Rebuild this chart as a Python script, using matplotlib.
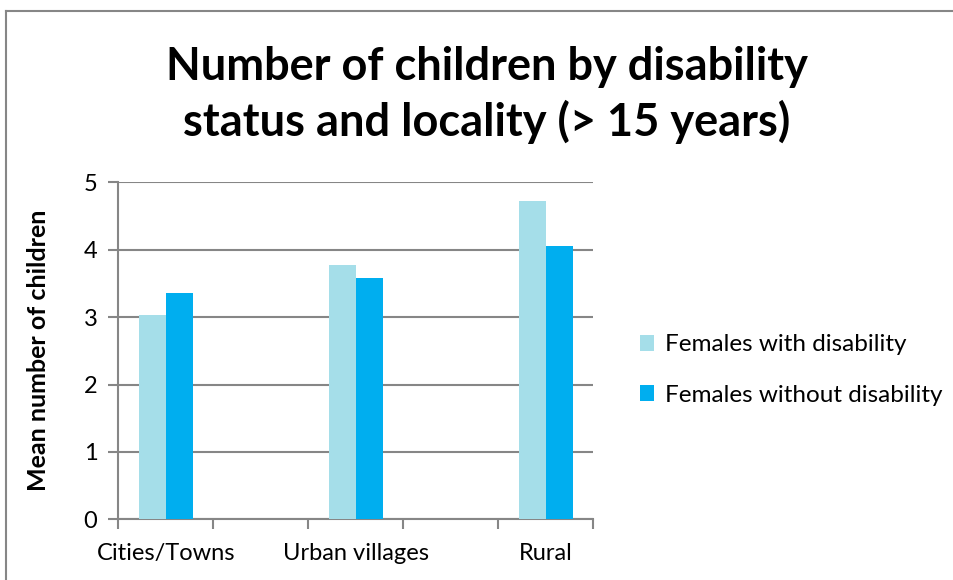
import matplotlib
matplotlib.use("Agg")
import matplotlib.pyplot as plt
import numpy as np
from matplotlib.lines import Line2D

categories = ["Cities/Towns", "", "Urban villages", "", "Rural"]
with_disability = [3.03, np.nan, 3.78, np.nan, 4.72]
without_disability = [3.36, np.nan, 3.58, np.nan, 4.05]
series_names = ["Females with disability", "Females without disability"]
yticks = [0, 1, 2, 3, 4, 5]
title = "Number of children by disability\nstatus and locality (> 15 years)"
ylabel = "Mean number of children"

LIGHT = "#A5DEE9"
DARK = "#00AEEF"
GRID = "#868686"
FONT = ["Lato", "DejaVu Sans"]
plt.rcParams["font.family"] = FONT

W, H = 954, 580
fig = plt.figure(figsize=(W / 100, H / 100), dpi=100)
fig.patch.set_facecolor("white")

left, right, top, bottom = 118.3, 593.3, 182.3, 519.3
ax = fig.add_axes([left / W, 1 - bottom / H, (right - left) / W, (bottom - top) / H])

x = np.arange(len(categories))
bw = 27 / 95
ax.bar(x - bw / 2, with_disability, bw, color=LIGHT, label=series_names[0], zorder=3)
ax.bar(x + bw / 2, without_disability, bw, color=DARK, label=series_names[1], zorder=3)

ax.set_xlim(-0.5, len(categories) - 0.5)
ax.set_ylim(0, 5)
ax.set_yticks(yticks)
ax.set_yticklabels([str(v) for v in yticks], fontsize=17)
ax.yaxis.grid(True, color=GRID, linewidth=1.5, zorder=0)
ax.set_axisbelow(True)

ax.set_xticks(x)
ax.set_xticklabels(categories, fontsize=17)
ax.set_xticks(np.arange(-0.5, len(categories)), minor=True)
ax.tick_params(axis="x", which="major", length=0, pad=17)
ax.tick_params(axis="x", which="minor", length=7, width=1.5, color=GRID, direction="out")
ax.tick_params(axis="y", length=7, width=1.5, color=GRID, direction="out", pad=8)

for s in ["top", "right"]:
    ax.spines[s].set_visible(False)
for s in ["left", "bottom"]:
    ax.spines[s].set_color(GRID)
    ax.spines[s].set_linewidth(1.5)

ax.set_ylabel(ylabel, fontsize=18, fontweight="bold", labelpad=24)

fig.text(487 / W, 1 - 95 / H, title, ha="center", va="center", fontsize=32.5,
         fontweight="bold", linespacing=1.3)

fig.legend(loc="center left", bbox_to_anchor=(618 / W, 1 - 370 / H), frameon=False,
           fontsize=17.5, handlelength=0.6, handleheight=0.6, handletextpad=0.45,
           labelspacing=1.2)

# chart border (top and left visible)
fig.add_artist(Line2D([6.5 / W, 1.0], [1 - 11 / H, 1 - 11 / H], color=GRID, linewidth=1.5))
fig.add_artist(Line2D([6.5 / W, 6.5 / W], [0, 1 - 11 / H], color=GRID, linewidth=1.5))

fig.savefig("out.png", dpi=100)
